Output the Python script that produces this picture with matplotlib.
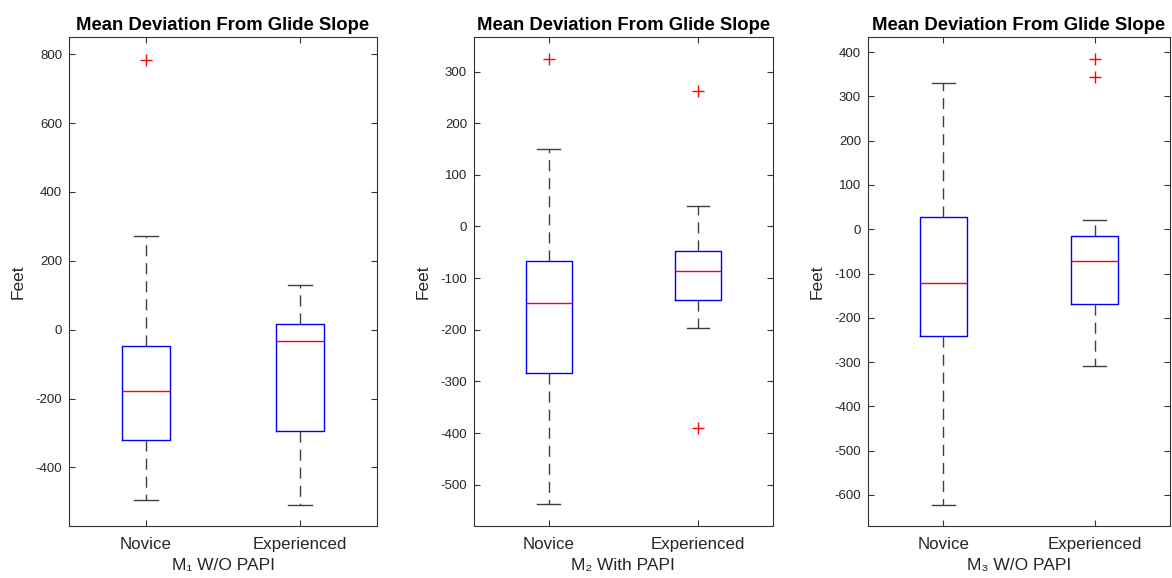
import matplotlib
matplotlib.use("Agg")
import matplotlib.pyplot as plt

plt.rcParams["font.family"] = ["Liberation Sans", "DejaVu Sans"]
plt.rcParams["axes.unicode_minus"] = False

groups = ["Novice", "Experienced"]
panel_labels = ["M\u2081 W/O PAPI", "M\u2082 With PAPI", "M\u2083 W/O PAPI"]
title = "Mean Deviation From Glide Slope"

# (whislo, q1, median, q3, whishi) per group
m1_novice = [-494, -321, -178, -48, 273]
m1_experienced = [-509, -293, -33, 16, 130]
m2_novice = [-538, -284, -149, -66, 150]
m2_experienced = [-197, -143, -87, -48, 39]
m3_novice = [-622, -240, -121, 27, 330]
m3_experienced = [-309, -168, -71, -15, 20]

m1_outliers = [[784], []]
m2_outliers = [[324], [262, -391]]
m3_outliers = [[], [384, 344]]

m1_ylim = (-570, 850)
m2_ylim = (-580, 367)
m3_ylim = (-670, 434)

m1_yticks = list(range(-400, 801, 200))
m2_yticks = list(range(-500, 301, 100))
m3_yticks = list(range(-600, 401, 100))


def make_stats(five, fliers, label):
    lo, q1, med, q3, hi = five
    return {"whislo": lo, "q1": q1, "med": med, "q3": q3,
            "whishi": hi, "fliers": fliers, "label": label}


def draw(ax, series, outliers, ylim, yticks, xlabel):
    stats = [make_stats(s, f, g) for s, f, g in zip(series, outliers, groups)]
    ax.bxp(stats, positions=[1, 2], widths=0.31, capwidths=0.15,
           boxprops=dict(color="blue", linewidth=1.0),
           medianprops=dict(color="red", linewidth=1.0),
           whiskerprops=dict(color="#404040", linestyle=(0, (8, 5)),
                             linewidth=1.0),
           capprops=dict(color="#404040", linewidth=1.0),
           flierprops=dict(marker="+", markeredgecolor="red",
                           markersize=9, linestyle="none"))
    ax.set_xlim(0.5, 2.5)
    ax.set_ylim(*ylim)
    ax.set_yticks(yticks)
    ax.set_yticklabels([str(t) for t in yticks])
    ax.set_xticks([1, 2])
    ax.set_xticklabels(groups, fontsize=12.2)
    ax.tick_params(direction="in", top=True, right=True, length=4,
                   colors="#333333", labelcolor="#262626")
    ax.tick_params(axis="y", labelsize=9.5, pad=5)
    ax.tick_params(axis="x", pad=8)
    for sp in ax.spines.values():
        sp.set_color("#333333")
        sp.set_linewidth(0.8)
    ax.set_title(title, fontsize=13.3, fontweight="bold", pad=5)
    ax.set_ylabel("Feet", fontsize=12.5, color="#262626", labelpad=7)
    ax.set_xlabel(xlabel, fontsize=12.5, color="#262626", labelpad=4)


fig = plt.figure(figsize=(11.72, 5.78), dpi=100)
ax1 = fig.add_axes([0.0589, 0.090, 0.2628, 0.846])
ax2 = fig.add_axes([0.4044, 0.090, 0.255, 0.846])
ax3 = fig.add_axes([0.7406, 0.090, 0.2577, 0.846])

draw(ax1, [m1_novice, m1_experienced], m1_outliers, m1_ylim, m1_yticks,
     panel_labels[0])
draw(ax2, [m2_novice, m2_experienced], m2_outliers, m2_ylim, m2_yticks,
     panel_labels[1])
draw(ax3, [m3_novice, m3_experienced], m3_outliers, m3_ylim, m3_yticks,
     panel_labels[2])

fig.savefig("out.png", dpi=100)
